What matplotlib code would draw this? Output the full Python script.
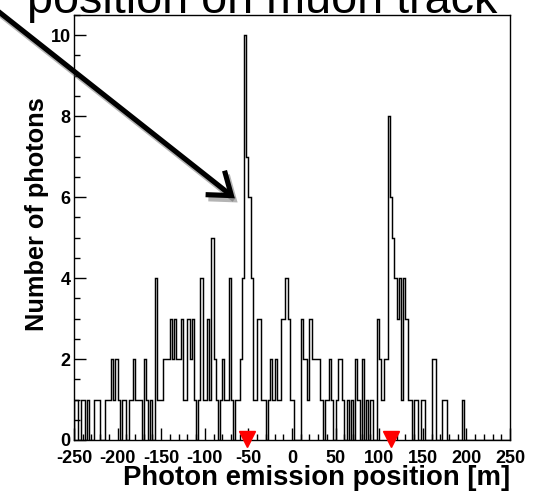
import numpy as np
import matplotlib

matplotlib.use("Agg")

import matplotlib.pyplot as plt  # noqa: E402
from matplotlib import patheffects  # noqa: E402
from matplotlib.patches import FancyArrowPatch  # noqa: E402
from matplotlib.ticker import MultipleLocator  # noqa: E402

plt.rcParams["font.family"] = ["Liberation Sans", "DejaVu Sans"]

# photon counts per 2.5 m bin, one list per 50 m stretch of the track
counts_m250 = [1, 1, 0, 1, 1, 0, 1, 0, 0, 1, 1, 1, 0, 0, 1, 1, 1, 2, 1, 2]
counts_m200 = [1, 0, 1, 1, 0, 1, 1, 2, 1, 1, 1, 0, 2, 1, 0, 1, 0, 4, 1, 1]
counts_m150 = [1, 2, 2, 2, 3, 2, 3, 2, 2, 3, 1, 1, 3, 2, 3, 1, 0, 1, 4, 1]
counts_m100 = [1, 3, 1, 5, 2, 1, 0, 1, 2, 1, 1, 4, 1, 0, 1, 1, 2, 4, 10, 7]
counts_m50 = [6, 4, 1, 1, 3, 3, 1, 1, 0, 1, 2, 1, 2, 1, 1, 3, 3, 4, 3, 1]
counts_p0 = [1, 0, 0, 0, 3, 2, 2, 1, 3, 2, 2, 2, 2, 1, 0, 1, 1, 2, 1, 0]
counts_p50 = [1, 2, 2, 1, 0, 1, 0, 1, 0, 2, 1, 0, 2, 0, 1, 0, 1, 0, 0, 3]
counts_p100 = [2, 1, 2, 2, 8, 6, 5, 4, 3, 4, 1, 4, 3, 1, 1, 0, 1, 1, 0, 1]
counts_p150 = [1, 0, 0, 0, 2, 2, 0, 0, 0, 1, 1, 0, 0, 0, 0, 0, 0, 0, 1, 0]
counts_p200 = [0] * 20

x_range = (-250, 250)
n_bins = 200

# positions of the two markers under the axis [m]
marker_x = [-52, 114]

counts = np.array(counts_m250 + counts_m200 + counts_m150 + counts_m100 + counts_m50
                  + counts_p0 + counts_p50 + counts_p100 + counts_p150 + counts_p200)
edges = np.linspace(x_range[0], x_range[1], n_bins + 1)

W, H = 544, 492
fig = plt.figure(figsize=(W / 100, H / 100), dpi=100)
fig.patch.set_facecolor("white")

left, right, top, bottom = 74, 510, 15, 440
ax = fig.add_axes([left / W, 1 - bottom / H, (right - left) / W, (bottom - top) / H])

ax.stairs(counts, edges, color="black", lw=1.05, baseline=0)
ax.set_xlim(*x_range)
ax.set_ylim(0, counts.max() * 1.05)

ax.plot(marker_x, [0.03] * len(marker_x), marker="v", ls="none", color="#ff0000",
        markersize=12, clip_on=False, zorder=5)

# ROOT-like axes: ticks pointing inwards, bold labels
ax.xaxis.set_major_locator(MultipleLocator(50))
ax.xaxis.set_minor_locator(MultipleLocator(10))
ax.yaxis.set_major_locator(MultipleLocator(2))
ax.yaxis.set_minor_locator(MultipleLocator(0.5))
ax.tick_params(which="both", direction="in", top=False, right=False, width=1, color="black")
ax.tick_params(which="major", length=8.5)
ax.tick_params(which="minor", length=4.3)
ax.tick_params(axis="y", pad=2.5)
ax.tick_params(axis="x", pad=7)
ax.set_xticks(np.arange(-250, 251, 50))
ax.set_xticklabels([str(v) for v in range(-250, 251, 50)], fontsize=13, fontweight="bold")
ax.set_yticks(np.arange(0, 11, 2))
ax.set_yticklabels([str(v) for v in range(0, 11, 2)], fontsize=13, fontweight="bold")
for spine in ax.spines.values():
    spine.set_linewidth(1.0)
    spine.set_color("black")

ax.set_xlabel("Photon emission position [m]", fontsize=19.8, fontweight="bold",
              loc="right", labelpad=-1)
ax.set_ylabel("Number of photons", fontsize=18.3, fontweight="bold")
ax.yaxis.set_label_coords(-0.057, 0.532)

# caption running off the top edge
fig.text(27 / W, 1 - 13 / H, "position on muon track", fontsize=33.7,
         va="baseline", ha="left", color="black")

# pointer to the first peak, with a soft drop shadow
arrow = FancyArrowPatch((-6 / W, 1 - 8 / H), (237 / W, 1 - 200 / H),
                        transform=fig.transFigure,
                        arrowstyle="->,head_length=0.75,head_width=0.55",
                        mutation_scale=20, lw=3.7, color="black",
                        capstyle="butt", joinstyle="miter")
arrow.set_path_effects([
    patheffects.SimpleLineShadow(offset=(2, -3), shadow_color="0.35", alpha=0.45),
    patheffects.Normal(),
])
fig.add_artist(arrow)

fig.savefig("out.png", dpi=100, facecolor="white")
